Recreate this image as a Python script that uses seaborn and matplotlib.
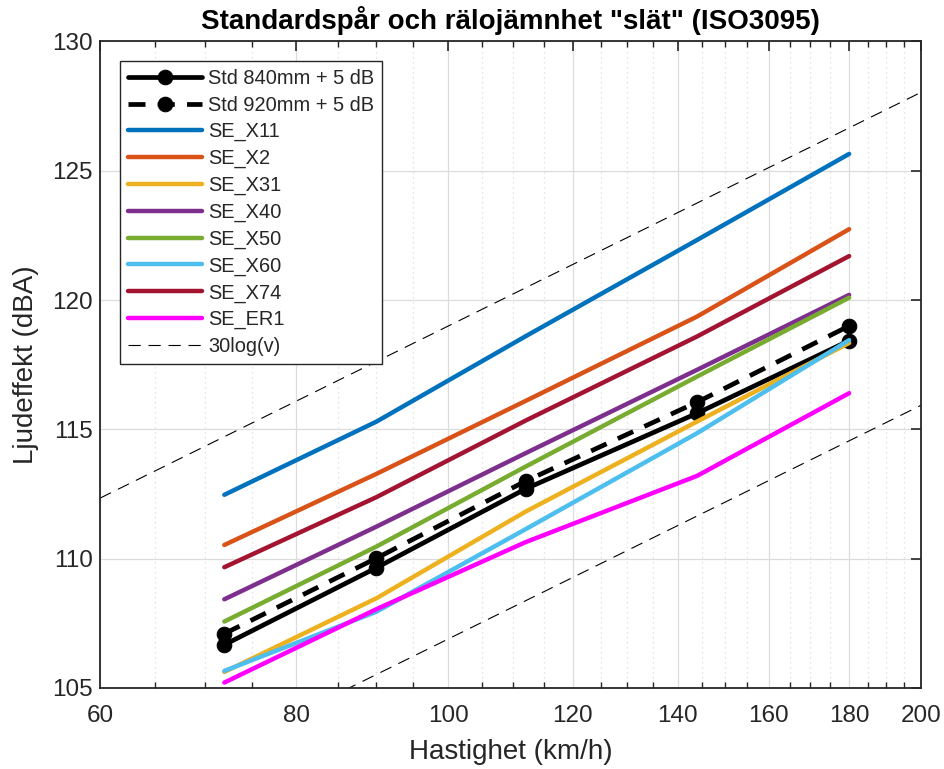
import matplotlib
matplotlib.use("Agg")
import matplotlib.pyplot as plt
import matplotlib.ticker as mticker
import seaborn as sns
import pandas as pd

# ---- data ----
speeds = [72, 90, 112, 144, 180]
std840 = [106.67, 109.65, 112.70, 115.62, 118.43]
std920 = [107.10, 110.02, 113.00, 116.05, 119.00]
se_x11 = [112.47, 115.30, 118.60, 122.32, 125.65]
se_x2 = [110.53, 113.28, 116.10, 119.36, 122.74]
se_x31 = [105.62, 108.47, 111.82, 115.30, 118.34]
se_x40 = [108.43, 111.24, 114.08, 117.30, 120.20]
se_x50 = [107.57, 110.47, 113.56, 117.04, 120.09]
se_x60 = [105.66, 107.95, 111.14, 114.85, 118.45]
se_x74 = [109.67, 112.38, 115.34, 118.59, 121.70]
se_er1 = [105.21, 108.05, 110.64, 113.20, 116.40]

ref_speeds = [60, 200]
ref_upper = [112.34, 128.03]
ref_lower = [100.24, 115.93]

series_names = ["SE_X11", "SE_X2", "SE_X31", "SE_X40", "SE_X50", "SE_X60", "SE_X74", "SE_ER1"]
series_values = [se_x11, se_x2, se_x31, se_x40, se_x50, se_x60, se_x74, se_er1]
series_colors = ["#0072BD", "#D95319", "#EDB120", "#7E2F8E", "#77AC30", "#4DBEEE", "#A2142F", "#FF00FF"]

x_major = [60, 80, 100, 120, 140, 160, 180, 200]
x_minor = list(range(60, 201, 5))
y_ticks = [105, 110, 115, 120, 125, 130]

title = 'Standardspår och rälojämnhet "slät" (ISO3095)'
xlabel = "Hastighet (km/h)"
ylabel = "Ljudeffekt (dBA)"

# ---- style ----
sns.set_style("white")
plt.rcParams["font.family"] = ["Liberation Sans", "DejaVu Sans"]
dark = "#262626"
grid_c = "#DCDCDC"

fig = plt.figure(figsize=(9.44, 7.69), dpi=100)
ax = fig.add_axes([100 / 944, 1 - 688 / 769, 821 / 944, 646.6 / 769])

ax.set_xscale("log")

# grid
for v in x_minor:
    if v not in x_major:
        ax.axvline(v, color=grid_c, lw=0.9, ls=(0, (1, 3)), zorder=0)
for v in x_major:
    ax.axvline(v, color=grid_c, lw=0.9, zorder=0)
for v in y_ticks:
    ax.axhline(v, color=grid_c, lw=0.9, zorder=0)

# black reference series
df840 = pd.DataFrame({"v": speeds, "L": std840})
df920 = pd.DataFrame({"v": speeds, "L": std920})
sns.lineplot(data=df840, x="v", y="L", ax=ax, color="black", lw=3.4,
             marker="o", markersize=10.5, markeredgecolor="black",
             label="Std 840mm + 5 dB", zorder=3)
sns.lineplot(data=df920, x="v", y="L", ax=ax, color="black", lw=3.4,
             marker="o", markersize=10.5, markeredgecolor="black",
             dashes=False, label="Std 920mm + 5 dB", zorder=3)
ax.lines[-1].set_linestyle((0, (3.6, 2.6)))

for name, vals, col in zip(series_names, series_values, series_colors):
    d = pd.DataFrame({"v": speeds, "L": vals})
    sns.lineplot(data=d, x="v", y="L", ax=ax, color=col, lw=3.2, label=name, zorder=4)

dfu = pd.DataFrame({"v": ref_speeds, "L": ref_upper})
dfl = pd.DataFrame({"v": ref_speeds, "L": ref_lower})
sns.lineplot(data=dfu, x="v", y="L", ax=ax, color="black", lw=0.8, label="30log(v)", zorder=2)
ax.lines[-1].set_linestyle((0, (11, 7)))
sns.lineplot(data=dfl, x="v", y="L", ax=ax, color="black", lw=0.8, zorder=2)
ax.lines[-1].set_linestyle((0, (11, 7)))

ax.set_xlim(60, 200)
ax.set_ylim(105, 130)
ax.xaxis.set_major_locator(mticker.FixedLocator(x_major))
ax.xaxis.set_major_formatter(mticker.FixedFormatter([str(v) for v in x_major]))
ax.xaxis.set_minor_locator(mticker.FixedLocator([v for v in x_minor if v not in x_major]))
ax.xaxis.set_minor_formatter(mticker.NullFormatter())
ax.set_yticks(y_ticks)

ax.tick_params(axis="both", which="major", direction="in", length=7, width=1.2,
               colors=dark, labelsize=17.5, top=True, right=True)
ax.tick_params(axis="x", which="major", pad=12)
ax.tick_params(axis="y", which="major", pad=5)
ax.tick_params(axis="x", which="minor", direction="in", length=4, width=1.0,
               colors=dark, top=True, bottom=True)
for s in ax.spines.values():
    s.set_color(dark)
    s.set_linewidth(1.3)

ax.set_xlabel(xlabel, fontsize=20, color=dark, labelpad=9)
ax.set_ylabel(ylabel, fontsize=20, color=dark, labelpad=10)
ax.set_title(title, fontsize=20, fontweight="bold", color="black", pad=9)

handles, labels = ax.get_legend_handles_labels()
leg = ax.legend(handles, labels, loc="upper left",
                bbox_to_anchor=(20 / 821, 1 - 19.6 / 646.6), borderaxespad=0,
                fontsize=14.4, handlelength=3.7, handletextpad=0.3,
                labelspacing=0.38, borderpad=0.4, frameon=True, fancybox=False,
                framealpha=1, edgecolor=dark)
leg.get_frame().set_linewidth(1.0)

fig.savefig("out.png", dpi=100)
